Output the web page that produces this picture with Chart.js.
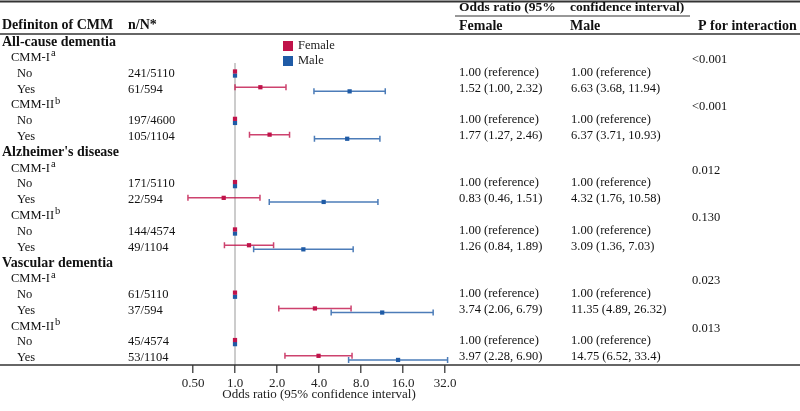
<!DOCTYPE html>
<html>
<head>
<meta charset="utf-8">
<script src="https://cdn.jsdelivr.net/npm/chart.js@4.4.1/dist/chart.umd.min.js"></script>
<style>
  html, body { margin: 0; padding: 0; background: #fff; }
</style>
</head>
<body>
<canvas id="forest" width="800" height="411"></canvas>
<script>
// rows of the table, top to bottom
const rowLabels = ["All-cause dementia", "CMM-I", "No", "Yes", "CMM-II", "No", "Yes",
  "Alzheimer's disease", "CMM-I", "No", "Yes", "CMM-II", "No", "Yes",
  "Vascular dementia", "CMM-I", "No", "Yes", "CMM-II", "No", "Yes"];
const rowLevel = [0, 1, 2, 2, 1, 2, 2, 0, 1, 2, 2, 1, 2, 2, 0, 1, 2, 2, 1, 2, 2];
const rowSup = ["", "a", "", "", "b", "", "", "", "a", "", "", "b", "", "", "", "a", "", "", "b", "", ""];
const nN = ["", "", "241/5110", "61/594", "", "197/4600", "105/1104",
  "", "", "171/5110", "22/594", "", "144/4574", "49/1104",
  "", "", "61/5110", "37/594", "", "45/4574", "53/1104"];

const femaleOR = [null, null, 1, 1.52, null, 1, 1.77, null, null, 1, 0.83, null, 1, 1.26, null, null, 1, 3.74, null, 1, 3.97];
const femaleLo = [null, null, null, 1.00, null, null, 1.27, null, null, null, 0.46, null, null, 0.84, null, null, null, 2.06, null, null, 2.28];
const femaleHi = [null, null, null, 2.32, null, null, 2.46, null, null, null, 1.51, null, null, 1.89, null, null, null, 6.79, null, null, 6.90];
const maleOR = [null, null, 1, 6.63, null, 1, 6.37, null, null, 1, 4.32, null, 1, 3.09, null, null, 1, 11.35, null, 1, 14.75];
const maleLo = [null, null, null, 3.68, null, null, 3.71, null, null, null, 1.76, null, null, 1.36, null, null, null, 4.89, null, null, 6.52];
const maleHi = [null, null, null, 11.94, null, null, 10.93, null, null, null, 10.58, null, null, 7.03, null, null, null, 26.32, null, null, 33.4];

const femaleText = ["", "", "1.00 (reference)", "1.52 (1.00, 2.32)", "", "1.00 (reference)", "1.77 (1.27, 2.46)",
  "", "", "1.00 (reference)", "0.83 (0.46, 1.51)", "", "1.00 (reference)", "1.26 (0.84, 1.89)",
  "", "", "1.00 (reference)", "3.74 (2.06, 6.79)", "", "1.00 (reference)", "3.97 (2.28, 6.90)"];
const maleText = ["", "", "1.00 (reference)", "6.63 (3.68, 11.94)", "", "1.00 (reference)", "6.37 (3.71, 10.93)",
  "", "", "1.00 (reference)", "4.32 (1.76, 10.58)", "", "1.00 (reference)", "3.09 (1.36, 7.03)",
  "", "", "1.00 (reference)", "11.35 (4.89, 26.32)", "", "1.00 (reference)", "14.75 (6.52, 33.4)"];
const pText = ["", "<0.001", "", "", "<0.001", "", "", "", "0.012", "", "", "0.130", "", "",
  "", "0.023", "", "", "0.013", "", ""];

const xTicks = [0.5, 1, 2, 4, 8, 16, 32];
const xTickLabels = ["0.50", "1.0", "2.0", "4.0", "8.0", "16.0", "32.0"];

const RED = "#C0134A";
const BLUE = "#1F5BA6";
const SERIF = "'Liberation Serif', 'Times New Roman', serif";

function points(vals, shift) {
  const out = [];
  vals.forEach((v, i) => {
    if (v !== null) out.push({ x: v, y: i + shift });
  });
  return out;
}

const forestTable = {
  id: "forestTable",
  beforeDatasetsDraw(chart) {
    const ctx = chart.ctx;
    const xs = chart.scales.x;
    const ys = chart.scales.y;
    const area = chart.chartArea;
    // reference line at OR = 1
    ctx.save();
    ctx.strokeStyle = "#cccccc";
    ctx.lineWidth = 2;
    ctx.beginPath();
    ctx.moveTo(xs.getPixelForValue(1), 63);
    ctx.lineTo(xs.getPixelForValue(1), area.bottom);
    ctx.stroke();
    // confidence intervals
    const bars = [[femaleLo, femaleHi, -0.13, "rgba(192,19,74,0.8)"], [maleLo, maleHi, 0.13, "rgba(31,91,166,0.8)"]];
    bars.forEach(([lo, hi, shift, col]) => {
      ctx.strokeStyle = col;
      ctx.lineWidth = 1.5;
      lo.forEach((l, i) => {
        if (l === null) return;
        const y = ys.getPixelForValue(i + shift);
        const x1 = xs.getPixelForValue(l);
        const x2 = xs.getPixelForValue(hi[i]);
        ctx.beginPath();
        ctx.moveTo(x1, y); ctx.lineTo(x2, y);
        ctx.moveTo(x1, y - 3); ctx.lineTo(x1, y + 3);
        ctx.moveTo(x2, y - 3); ctx.lineTo(x2, y + 3);
        ctx.stroke();
      });
    });
    ctx.restore();
  },
  afterDraw(chart) {
    const ctx = chart.ctx;
    const ys = chart.scales.y;
    const area = chart.chartArea;
    const W = chart.width;
    ctx.save();
    // rules
    ctx.strokeStyle = "#333";
    ctx.lineWidth = 2;
    ctx.beginPath(); ctx.moveTo(0, 1.5); ctx.lineTo(W, 1.5); ctx.stroke();
    ctx.lineWidth = 1.2;
    ctx.beginPath(); ctx.moveTo(455, 16); ctx.lineTo(690, 16); ctx.stroke();
    ctx.lineWidth = 1.5;
    ctx.beginPath(); ctx.moveTo(0, 34); ctx.lineTo(W, 34); ctx.stroke();
    ctx.beginPath(); ctx.moveTo(0, area.bottom); ctx.lineTo(W, area.bottom); ctx.stroke();

    ctx.fillStyle = "#111";
    ctx.textBaseline = "middle";
    ctx.textAlign = "left";
    // header
    ctx.font = "bold 13.5px " + SERIF;
    ctx.fillText("Odds ratio (95%", 459, 8);
    ctx.fillText("confidence interval)", 570, 8);
    ctx.font = "bold 14px " + SERIF;
    ctx.fillText("Definiton of CMM", 2, 25);
    ctx.fillText("n/N*", 128, 25);
    ctx.fillText("Female", 459, 26);
    ctx.fillText("Male", 570, 26);
    ctx.fillText("P for interaction", 698, 26);

    // rows
    rowLabels.forEach((lab, i) => {
      const y = ys.getPixelForValue(i);
      if (rowLevel[i] === 0) {
        ctx.font = "bold 14px " + SERIF;
        ctx.fillText(lab, 2, y);
      } else {
        ctx.font = "12.5px " + SERIF;
        const x = rowLevel[i] === 1 ? 11 : 17;
        ctx.fillText(lab, x, y);
        if (rowSup[i]) {
          const w = ctx.measureText(lab).width;
          ctx.font = "10.5px " + SERIF;
          ctx.fillText(rowSup[i], x + w + 1, y - 4);
        }
      }
      ctx.font = "12.5px " + SERIF;
      if (nN[i]) ctx.fillText(nN[i], 128, y);
      if (femaleText[i]) ctx.fillText(femaleText[i], 459, y - 1);
      if (maleText[i]) ctx.fillText(maleText[i], 571, y - 1);
      if (pText[i]) ctx.fillText(pText[i], 692, y + 2);
    });

    // legend
    ctx.font = "12.5px " + SERIF;
    chart.data.datasets.forEach((ds, k) => {
      const y = 46 + k * 15;
      ctx.fillStyle = ds.backgroundColor;
      ctx.fillRect(283, y - 5, 10, 10);
      ctx.fillStyle = "#222";
      ctx.fillText(ds.label, 298, y);
    });
    ctx.restore();
  }
};

new Chart(document.getElementById("forest"), {
  type: "scatter",
  data: {
    datasets: [
      {
        label: "Female",
        data: points(femaleOR, -0.13),
        pointStyle: "rect",
        pointRadius: 3,
        backgroundColor: RED,
        borderColor: RED,
        borderWidth: 0,
      },
      {
        label: "Male",
        data: points(maleOR, 0.13),
        pointStyle: "rect",
        pointRadius: 3,
        backgroundColor: BLUE,
        borderColor: BLUE,
        borderWidth: 0,
      },
    ],
  },
  options: {
    responsive: false,
    animation: false,
    events: [],
    layout: {
      padding: { left: 193, right: 355, top: 34, bottom: 0 },
    },
    scales: {
      x: {
        type: "logarithmic",
        min: 0.5,
        max: 32,
        afterBuildTicks: (axis) => {
          axis.ticks = xTicks.map((v) => ({ value: v }));
        },
        afterFit: (axis) => {
          axis.height = 46;
        },
        border: { display: false },
        grid: {
          display: true,
          drawOnChartArea: false,
          drawTicks: true,
          tickLength: 8,
          color: "#555",
          lineWidth: 1.5,
        },
        ticks: {
          autoSkip: false,
          maxRotation: 0,
          padding: 3,
          color: "#222",
          font: { family: SERIF, size: 13 },
          callback: function (val, index) {
            return xTickLabels[index];
          },
        },
        title: {
          display: true,
          text: "Odds ratio (95% confidence interval)",
          color: "#222",
          font: { family: SERIF, size: 13 },
          padding: { top: 0, bottom: 9 },
        },
      },
      y: {
        type: "linear",
        display: false,
        reverse: true,
        min: -0.5,
        max: 20.45,
      },
    },
    plugins: {
      legend: { display: false },
      tooltip: { enabled: false },
    },
  },
  plugins: [forestTable],
});
</script>
</body>
</html>
